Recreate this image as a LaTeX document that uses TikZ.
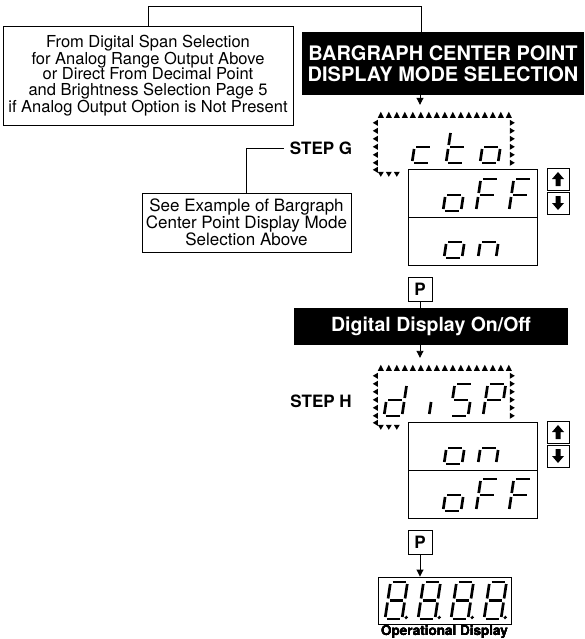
\documentclass[tikz,border=0pt]{standalone}
\usepackage{fontspec}
\setmainfont{TeX Gyre Heros}
\usetikzlibrary{arrows.meta,positioning,calc}

% seven segment pieces (width \dw, height \dh, origin = bottom left)
\newcommand{\ssA}{\draw (2,-\dh) -- (\dw-2,-\dh);}
\newcommand{\ssB}{\draw (\dw,-\dh+2) -- (\dw,-\dh/2-2);}
\newcommand{\ssC}{\draw (\dw,-\dh/2+2) -- (\dw,-2);}
\newcommand{\ssD}{\draw (2,0) -- (\dw-2,0);}
\newcommand{\ssE}{\draw (0,-2) -- (0,-\dh/2+2);}
\newcommand{\ssF}{\draw (0,-\dh/2-2) -- (0,-\dh+2);}
\newcommand{\ssG}{\draw (2,-\dh/2) -- (\dw-2,-\dh/2);}
\newcommand{\ssP}{\fill (\dw+4,-1.5) circle (1.8);}
\newcommand{\sevenseg}[5]{% x, bottom y, width, height, segments
  \begin{scope}[shift={(#1,#2)}, xslant=0.15, digit]
    \def\dw{#3}\def\dh{#4}
    \foreach \s in {#5} {\csname ss\s\endcsname}
  \end{scope}}

% blinking marks round a display
\newcommand{\flashmarks}[1]{%
  \begin{scope}[shift={(#1)}]
    \foreach \i in {0,...,16} \fill (9+8*\i,7) -- (12+8*\i,13) -- (6+8*\i,13) -- cycle;
    \foreach \j in {0,...,5} {
      \fill (1,18+8*\j) -- (6,15+8*\j) -- (6,21+8*\j) -- cycle;
      \fill (143,18+8*\j) -- (138,15+8*\j) -- (138,21+8*\j) -- cycle;
    }
    \fill (1,65) -- (6,62) -- (6,68) -- cycle;
    \foreach \i in {0,1,2} \fill (9+8*\i,72) -- (12+8*\i,67) -- (6+8*\i,67) -- cycle;
  \end{scope}}

\newcommand{\upglyph}[1]{\fill[shift={(#1)}] (0,-7) -- (6,0) -- (2.5,0) -- (2.5,7) -- (-2.5,7) -- (-2.5,0) -- (-6,0) -- cycle;}
\newcommand{\downglyph}[1]{\fill[shift={(#1)}, yscale=-1] (0,-7) -- (6,0) -- (2.5,0) -- (2.5,7) -- (-2.5,7) -- (-2.5,0) -- (-6,0) -- cycle;}

\begin{document}
\begin{tikzpicture}[
    x=1pt, y=-1pt,
    panel/.style={draw, line width=0.9pt, align=center, inner sep=0pt},
    banner/.style={fill=black, text=white, align=center, inner sep=0pt},
    menuitem/.style={draw, line width=0.9pt, minimum width=129, minimum height=48, inner sep=0pt},
    keybox/.style={draw, line width=0.9pt, minimum size=22, inner sep=0pt},
    pkey/.style={draw, line width=0.9pt, minimum size=24, inner sep=0pt, font=\bfseries\fontsize{17}{17}\selectfont},
    steplabel/.style={font=\bfseries\fontsize{17}{17}\selectfont, inner sep=0pt},
    link/.style={line width=0.9pt},
    arrow/.style={link, -{Triangle[length=7pt,width=7pt]}},
    digit/.style={line width=2.7pt}
]
\useasboundingbox (0,0) rectangle (584,639);

% Source note and heading
\node[panel, minimum width=290, minimum height=99, font=\fontsize{16.5}{15.8}\selectfont] (srcbox) at (148,75.5)
  {From Digital Span Selection\\for Analog Range Output Above\\or Direct From Decimal Point\\and Brightness Selection Page 5\\if Analog Output Option is Not Present};
\node[banner, minimum width=282, minimum height=63, font=\bfseries\fontsize{20}{21}\selectfont] (title1) at (443,63.5)
  {BARGRAPH CENTER POINT\\DISPLAY MODE SELECTION};
\coordinate (topturn) at (421,6);
\draw[link] (srcbox.north) |- (topturn) -- (title1.north -| topturn);

% Step G
\node (ctoflash) at (444,140.5) [minimum width=144, minimum height=71] {};
\flashmarks{ctoflash.north west}
\sevenseg{412}{163}{18}{32}{G,E,D}
\sevenseg{446}{163}{18}{32}{F,E,G,D}
\sevenseg{480}{163}{18}{32}{G,C,D,E}
\node[menuitem] (gtop) at (472.5,193) {};
\node[menuitem] (gbot) at (472.5,241) {};
\sevenseg{443}{211}{18}{32}{G,C,D,E}
\sevenseg{476}{211}{18}{32}{A,F,E,G}
\sevenseg{509}{211}{18}{32}{A,F,E,G}
\sevenseg{444}{258}{18}{32}{G,C,D,E}
\sevenseg{478}{258}{18}{32}{G,E,C}
\node[keybox] (gup) at (558,179) {};
\node[keybox] (gdown) at (558,203) {};
\upglyph{gup.center}
\downglyph{gdown.center}
\node[steplabel] (stepg) at (321,148) {STEP G};
\node[panel, minimum width=209, minimum height=59, font=\fontsize{17}{17}\selectfont] (seebox) at (246.5,222.5)
  {See Example of Bargraph\\Center Point Display Mode\\Selection Above};
\draw[link] ([xshift=-6pt]stepg.west) -| (seebox.north);
\node[pkey] (pkeyg) at (420,289) {P};
\draw[arrow] (title1.south -| pkeyg) -- (ctoflash.north -| pkeyg);

% Step H
\node[banner, minimum width=274, minimum height=37, font=\bfseries\fontsize{19.5}{20}\selectfont] (title2) at (431,326.5)
  {Digital Display On/Off};
\draw[link] (pkeyg.south) -- (pkeyg.south |- title2.north);
\node (dispflash) at (444,393.5) [minimum width=144, minimum height=71] {};
\flashmarks{dispflash.north west}
\draw[arrow] (title2.south -| pkeyg) -- (dispflash.north -| pkeyg);
\sevenseg{384}{416}{18}{32}{B,C,D,E,G}
\sevenseg{411}{416}{18}{32}{C}
\sevenseg{450}{416}{18}{32}{A,F,G,C,D}
\sevenseg{483}{416}{18}{32}{A,B,F,G,E}
\node[menuitem] (htop) at (472.5,446) {};
\node[menuitem] (hbot) at (472.5,494) {};
\sevenseg{444}{464}{18}{32}{G,C,D,E}
\sevenseg{478}{464}{18}{32}{G,E,C}
\sevenseg{443}{511}{18}{32}{G,C,D,E}
\sevenseg{476}{511}{18}{32}{A,F,E,G}
\sevenseg{509}{511}{18}{32}{A,F,E,G}
\node[keybox] (hup) at (558,432) {};
\node[keybox] (hdown) at (558,456) {};
\upglyph{hup.center}
\downglyph{hdown.center}
\node[steplabel] (steph) at (321,401) {STEP H};
\node[pkey] (pkeyh) at (420,542) {P};

% Operational display
\node[draw, line width=0.9pt, minimum width=133, minimum height=47, inner sep=0pt] (opdisp) at (444.5,600.5) {};
\foreach \dx in {385,418,451,484}
  \sevenseg{\dx}{619}{17}{37}{A,B,C,D,E,F,G,P}
\node[below=1pt of opdisp, inner sep=0pt, font=\bfseries\fontsize{13.5}{14}\selectfont] (oplabel) {Operational Display};
\draw[arrow] (pkeyh.south) -- (pkeyh.south |- opdisp.north);

\end{tikzpicture}
\end{document}
